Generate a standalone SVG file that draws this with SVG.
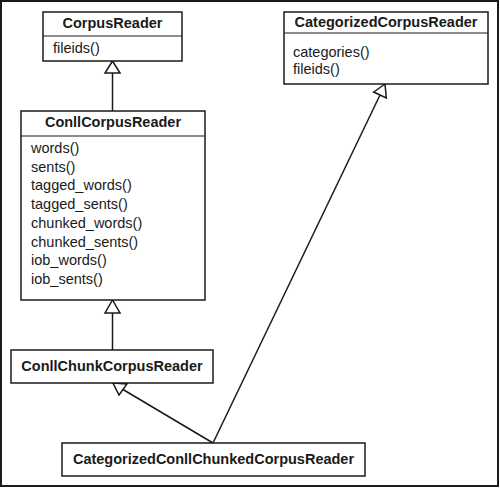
<svg xmlns="http://www.w3.org/2000/svg" width="500" height="488" viewBox="0 0 500 488">
<style>
.box{fill:#fff;stroke:#1a1a1a;stroke-width:1.5}
.sep{stroke:#1a1a1a;stroke-width:1.2}
.t{font-family:"Liberation Sans",Arial,sans-serif;font-size:14.5px;font-weight:bold;fill:#1a1a1a;text-anchor:middle}
.m{font-family:"Liberation Sans",Arial,sans-serif;font-size:14.5px;fill:#1a1a1a}
.ln{stroke:#1a1a1a;stroke-width:1.5;fill:none}
.tri{fill:#fff;stroke:#1a1a1a;stroke-width:1.5;stroke-linejoin:miter}
</style>
<rect x="1" y="1" width="497" height="485" fill="#fff" stroke="#1a1a1a" stroke-width="2"/>
<g id="connectors">
<line class="ln" x1="112.5" y1="73" x2="112.5" y2="111"/>
<polygon class="tri" points="112.5,61 105,73 120,73"/>
<line class="ln" x1="112.5" y1="313" x2="112.5" y2="350"/>
<polygon class="tri" points="112.5,300 105,313 120,313"/>
<line class="ln" x1="123" y1="389.5" x2="213" y2="443"/>
<polygon class="tri" points="113,383 127,384 119,395"/>
<line class="ln" x1="380" y1="95" x2="213" y2="443"/>
<polygon class="tri" points="385,84 386.3,98 373.7,92"/>
</g>
<g id="CorpusReader">
<rect class="box" x="43" y="12" width="139" height="49"/>
<line class="sep" x1="43" y1="36" x2="182" y2="36"/>
<text class="t" x="112.5" y="28">CorpusReader</text>
<text class="m" x="53" y="53">fileids()</text>
</g>
<g id="CategorizedCorpusReader">
<rect class="box" x="284" y="12" width="204" height="72"/>
<line class="sep" x1="284" y1="33" x2="488" y2="33"/>
<text class="t" x="386" y="27">CategorizedCorpusReader</text>
<text class="m" x="293" y="57">categories()</text>
<text class="m" x="293" y="74">fileids()</text>
</g>
<g id="ConllCorpusReader">
<rect class="box" x="21" y="111" width="184" height="189"/>
<line class="sep" x1="21" y1="136" x2="205" y2="136"/>
<text class="t" x="113" y="127">ConllCorpusReader</text>
<text class="m" x="31" y="153">words()</text>
<text class="m" x="31" y="171.7">sents()</text>
<text class="m" x="31" y="190.4">tagged_words()</text>
<text class="m" x="31" y="209.1">tagged_sents()</text>
<text class="m" x="31" y="227.8">chunked_words()</text>
<text class="m" x="31" y="246.5">chunked_sents()</text>
<text class="m" x="31" y="265.2">iob_words()</text>
<text class="m" x="31" y="284">iob_sents()</text>
</g>
<g id="ConllChunkCorpusReader">
<rect class="box" x="11" y="350" width="202" height="33"/>
<text class="t" x="112" y="371">ConllChunkCorpusReader</text>
</g>
<g id="CategorizedConllChunkedCorpusReader">
<rect class="box" x="62" y="443" width="303" height="33"/>
<text class="t" x="213.5" y="464">CategorizedConllChunkedCorpusReader</text>
</g>
</svg>
